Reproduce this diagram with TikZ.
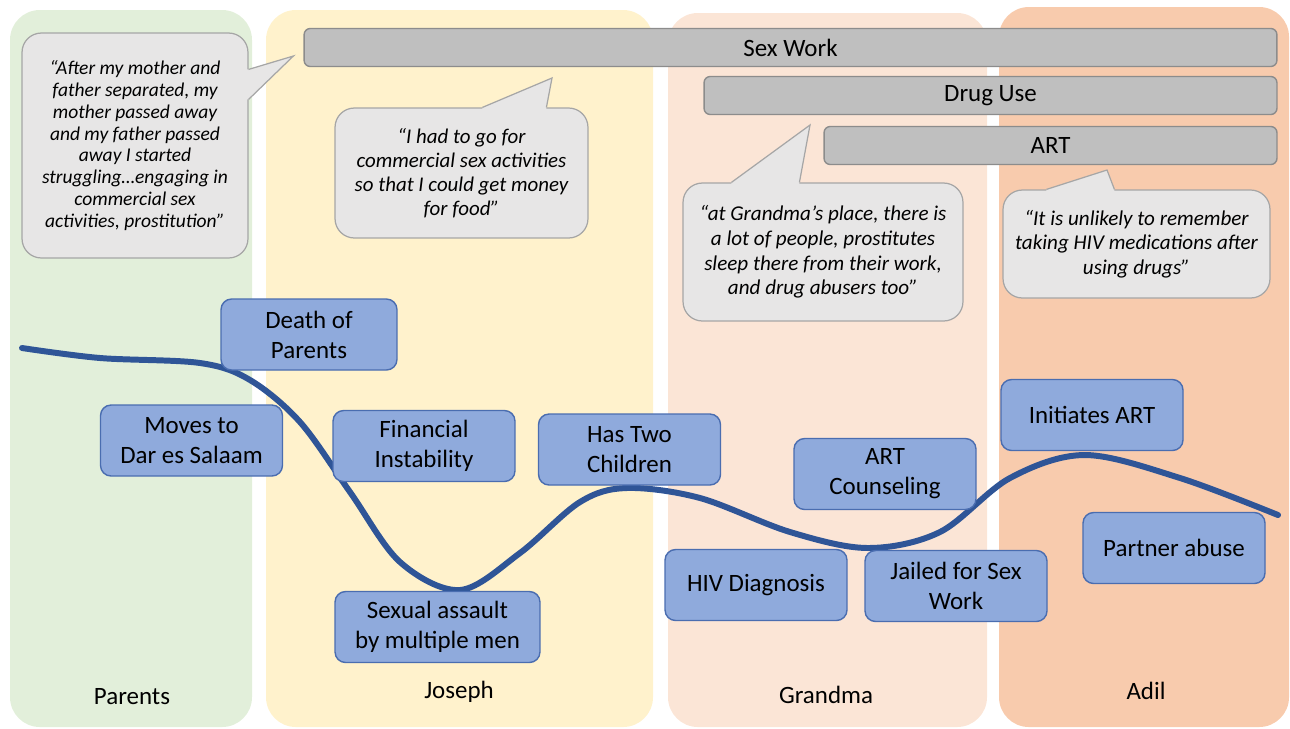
\documentclass[tikz,border=0pt]{standalone}
\usepackage{fontspec}
\setmainfont{Carlito}
\usetikzlibrary{calc,positioning}

\definecolor{parentsbg}{HTML}{E2EFDA}
\definecolor{josephbg}{HTML}{FFF2CC}
\definecolor{grandmabg}{HTML}{FBE5D6}
\definecolor{adilbg}{HTML}{F8CBAD}
\definecolor{bargray}{HTML}{BFBFBF}
\definecolor{barline}{HTML}{8C8C8C}
\definecolor{quotegray}{HTML}{E7E6E6}
\definecolor{quoteline}{HTML}{A6A6A6}
\definecolor{eventblue}{HTML}{8FAADC}
\definecolor{eventline}{HTML}{4A6DB0}
\definecolor{lifeblue}{HTML}{2F5597}

\begin{document}
\begin{tikzpicture}[x=0.02cm, y=-0.02cm,
    lane/.style={font=\fontsize{14.2}{17}\selectfont},
    bar/.style={fill=bargray, draw=barline, line width=0.8pt, rounded corners=3.5pt,
        inner sep=0pt, minimum height=0.76cm, font=\fontsize{14.2}{17}\selectfont},
    quote/.style={fill=quotegray, draw=quoteline, line width=0.7pt, rounded corners=11pt,
        inner sep=0pt, align=center},
    tail/.style={draw=quoteline, line width=0.7pt},
    event/.style={fill=eventblue, draw=eventline, line width=0.8pt, rounded corners=6pt,
        inner sep=0pt, align=center, minimum width=3.64cm, minimum height=1.42cm,
        font=\fontsize{14.2}{17.1}\selectfont},
    lifeline/.style={draw=lifeblue, line width=3.4pt, line cap=round}]

    \useasboundingbox (0,0) rectangle (1290,728);

    % Background lanes
    \fill[parentsbg, rounded corners=17pt] (10,10) rectangle (252,727);
    \fill[josephbg, rounded corners=17pt] (266,10) rectangle (653,727);
    \fill[grandmabg, rounded corners=17pt] (668,13) rectangle (987,727);
    \fill[adilbg, rounded corners=17pt] (999,7) rectangle (1289,727);

    \node[lane] (lparents) at (132,697) {Parents};
    \node[lane] (ljoseph) at (459,692) {Joseph};
    \node[lane] (lgrandma) at (826,695) {Grandma};
    \node[lane] (ladil) at (1146,691) {Adil};

    % Ongoing exposures
    \node[bar, minimum width=19.46cm] (sexwork) at (790.5,47.5) {Sex Work};
    \node[bar, minimum width=11.46cm] (druguse) at (990.5,95.5) {Drug Use};
    \node[bar, minimum width=9.06cm] (art) at (1050.5,145.5) {ART};

    % Quote from the Parents period
    \node[quote, minimum width=4.52cm, minimum height=4.5cm,
        font=\itshape\fontsize{11.1}{12.4}\selectfont] (qparents) at (135,145.5)
        {“After my mother and\\father separated, my\\mother passed away\\and my father passed\\away I started\\struggling…engaging in\\commercial sex\\activities, prostitution”};
    \coordinate (tparents) at ($(sexwork.west)+(-10,8.5)$);
    \fill[quotegray] ($(qparents.north east)+(-3,37)$) -- ($(qparents.north east)+(0,37)$) -- (tparents)
        -- ($(qparents.north east)+(0,67)$) -- ($(qparents.north east)+(-3,67)$) -- cycle;
    \draw[tail] ($(qparents.north east)+(0,37)$) -- (tparents) -- ($(qparents.north east)+(0,67)$);

    % Quote from the Joseph period
    \node[quote, minimum width=5.06cm, minimum height=2.6cm,
        font=\itshape\fontsize{11.9}{13.7}\selectfont] (qjoseph) at (461.5,173)
        {“I had to go for\\commercial sex activities\\so that I could get money\\for food”};
    \coordinate (tjoseph) at (552,78);
    \fill[quotegray] ($(qjoseph.north west)+(148,3)$) -- ($(qjoseph.north west)+(148,0)$) -- (tjoseph)
        -- ($(qjoseph.north west)+(212,0)$) -- ($(qjoseph.north west)+(212,3)$) -- cycle;
    \draw[tail] ($(qjoseph.north west)+(148,0)$) -- (tjoseph) -- ($(qjoseph.north west)+(212,0)$);

    % Quote from the Grandma period
    \node[quote, minimum width=5.6cm, minimum height=2.76cm,
        font=\itshape\fontsize{12}{14}\selectfont] (qgrandma) at (823,252)
        {“at Grandma’s place, there is\\a lot of people, prostitutes\\sleep there from their work,\\and drug abusers too”};
    \coordinate (tgrandma) at (810,125);
    \fill[quotegray] ($(qgrandma.north west)+(49,3)$) -- ($(qgrandma.north west)+(49,0)$) -- (tgrandma)
        -- ($(qgrandma.north west)+(117,0)$) -- ($(qgrandma.north west)+(117,3)$) -- cycle;
    \draw[tail] ($(qgrandma.north west)+(49,0)$) -- (tgrandma) -- ($(qgrandma.north west)+(117,0)$);

    % Quote from the Adil period
    \node[quote, minimum width=5.34cm, minimum height=2.16cm,
        font=\itshape\fontsize{12}{14}\selectfont] (qadil) at (1136.5,244)
        {“It is unlikely to remember\\taking HIV medications after\\using drugs”};
    \coordinate (tadil) at (1107,170);
    \fill[quotegray] ($(qadil.north west)+(44,3)$) -- ($(qadil.north west)+(44,0)$) -- (tadil)
        -- ($(qadil.north west)+(112,0)$) -- ($(qadil.north west)+(112,3)$) -- cycle;
    \draw[tail] ($(qadil.north west)+(44,0)$) -- (tadil) -- ($(qadil.north west)+(112,0)$);

    % Life course trajectory
    \draw[lifeline] plot[smooth, tension=0.55] coordinates {
        (22,348) (100,358) (200,363) (250,380) (300,422) (350,492) (400,562)
        (460,590) (520,553) (580,502) (627,488) (700,498) (790,532) (868,548)
        (940,532) (1010,478) (1085,455) (1180,478) (1278,515)};

    % Life events
    \node[event, minimum width=3.52cm] (death) at (309,334.5) {Death of\\Parents};
    \node[event] (moves) at (191.5,440.5) {Moves to\\Dar es Salaam};
    \node[event] (finance) at (424,446) {Financial\\Instability};
    \node[event, minimum width=4.1cm] (assault) at (437.5,627) {Sexual assault\\by multiple men};
    \node[event] (children) at (629.5,449.5) {Has Two\\Children};
    \node[event] (hivdx) at (756,585) {HIV Diagnosis};
    \node[event] (counsel) at (885,474) {ART\\Counseling};
    \node[event] (jailed) at (956,586) {Jailed for Sex\\Work};
    \node[event] (initart) at (1092,415) {Initiates ART};
    \node[event] (abuse) at (1174,548) {Partner abuse};

\end{tikzpicture}
\end{document}
